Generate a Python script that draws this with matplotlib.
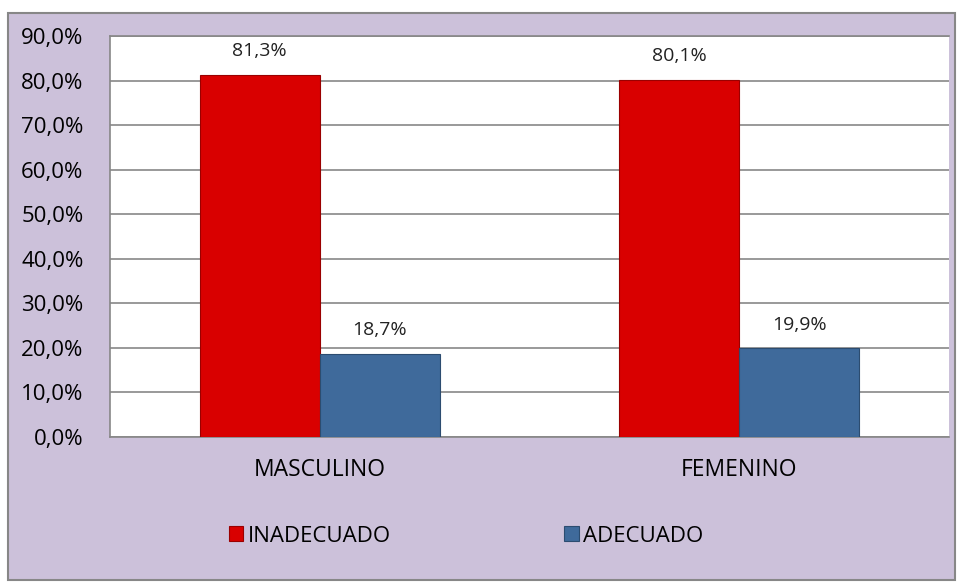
import matplotlib.pyplot as plt
import numpy as np
from matplotlib.patches import Rectangle

categories = ["MASCULINO", "FEMENINO"]
inadecuado = [81.3, 80.1]
adecuado = [18.7, 19.9]
series_names = ["INADECUADO", "ADECUADO"]

plt.rcParams['font.family'] = ['Open Sans', 'DejaVu Sans']

lav = "#CCC1DA"
red = "#D90000"
blue = "#3F6A9B"
grid = "#878787"

fig = plt.figure(figsize=(9.58, 5.83), dpi=100)
fig.patch.set_facecolor("white")
# outer chart frame
fig.patches.append(Rectangle((8/958, 3/583), 947/958, 567/583, transform=fig.transFigure,
                             facecolor=lav, edgecolor=grid, lw=1.5, zorder=-5))

ax = fig.add_axes([110/958, 1 - 437/583, 839/958, 401/583])
ax.set_facecolor("white")

x = np.arange(len(categories))
w = 0.286
b1 = ax.bar(x - w/2, inadecuado, w, color=red, edgecolor="#9a0000", lw=0.8, label=series_names[0], zorder=3)
b2 = ax.bar(x + w/2, adecuado, w, color=blue, edgecolor="#2c4c70", lw=0.8, label=series_names[1], zorder=3)

for bars, vals in [(b1, inadecuado), (b2, adecuado)]:
    for r, v in zip(bars, vals):
        ax.text(r.get_x() + r.get_width()/2, v + 3.3, ("%.1f%%" % v).replace(".", ","),
                ha="center", va="bottom", fontsize=14, color="#222222")

ax.set_xlim(-0.5, 1.5)
ax.set_ylim(0, 90)
ax.set_yticks(np.arange(0, 91, 10))
ax.set_yticklabels([("%.1f%%" % t).replace(".", ",") for t in np.arange(0, 91, 10)], fontsize=16)
ax.set_xticks(x)
ax.set_xticklabels(categories, fontsize=16.5)
ax.tick_params(axis="y", length=0, pad=19)
ax.tick_params(axis="x", length=0, pad=15)
ax.yaxis.grid(True, color=grid, lw=1.2, zorder=0)
ax.set_axisbelow(True)
for s in ax.spines.values():
    s.set_color(grid)
    s.set_linewidth(1.2)
ax.spines["right"].set_visible(False)

leg = fig.legend(loc="center", bbox_to_anchor=(466/958, 1 - 536/583), ncol=2, frameon=False,
                 fontsize=16, handlelength=0.65, handleheight=0.65, handletextpad=0.2,
                 columnspacing=7.8)

plt.savefig("out.png", dpi=100)
